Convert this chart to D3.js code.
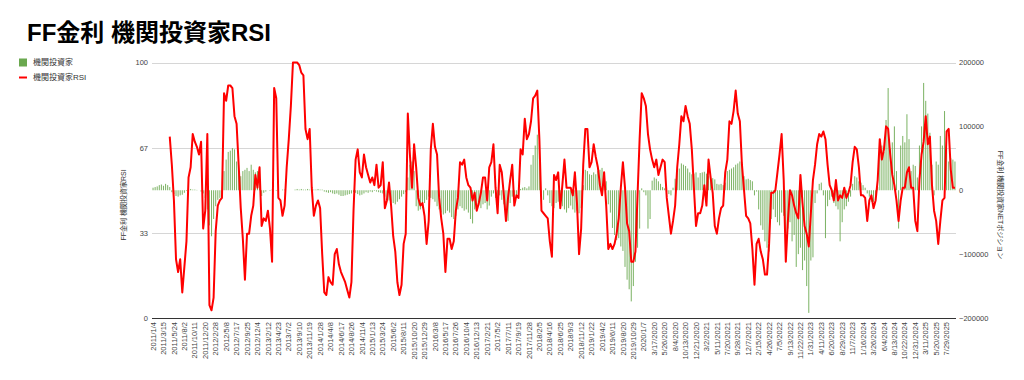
<!DOCTYPE html>
<html lang="ja">
<head>
  <meta charset="utf-8" />
  <title>FF金利 機関投資家RSI</title>
  <script src="https://d3js.org/d3.v7.min.js"></script>
  <style>
    html, body {
      margin: 0;
      padding: 0;
      background: #ffffff;
    }
    svg {
      display: block;
      font-family: "Liberation Sans", Arial, "Noto Sans CJK JP", sans-serif;
    }
    .title {
      font-size: 24px;
      font-weight: bold;
      fill: #000;
    }
    .legend text {
      font-size: 8px;
      fill: #333;
    }
    .axis text {
      font-size: 7.5px;
      fill: #444;
    }
    .axis-title {
      font-size: 7px;
      fill: #333;
    }
    .grid line {
      stroke: #d6d6d6;
      stroke-width: 1px;
    }
  </style>
</head>
<body>
  <svg id="chart" width="1024" height="380"></svg>

  <script>
    // x-axis tick labels, one every 5 slots (each slot = 2 weeks)
    const tickLabels = [
      "2011/1/4", "2011/3/15", "2011/5/24", "2011/8/2", "2011/10/11", "2011/12/20",
      "2012/2/28", "2012/5/8", "2012/7/17", "2012/9/25", "2012/12/4", "2013/2/12",
      "2013/4/23", "2013/7/2", "2013/9/10", "2013/11/19", "2014/1/28", "2014/4/8",
      "2014/6/17", "2014/8/26", "2014/11/4", "2015/1/13", "2015/3/24", "2015/6/2",
      "2015/8/11", "2015/10/20", "2015/12/29", "2016/3/8", "2016/5/17", "2016/7/26",
      "2016/10/4", "2016/12/13", "2017/2/21", "2017/5/2", "2017/7/11", "2017/9/19",
      "2017/11/28", "2018/2/5", "2018/4/16", "2018/6/25", "2018/9/3", "2018/11/12",
      "2019/1/22", "2019/4/2", "2019/6/11", "2019/8/20", "2019/10/29", "2020/1/7",
      "3/17/2020", "5/26/2020", "8/4/2020", "10/13/2020", "12/21/2020", "3/2/2021",
      "5/11/2021", "7/20/2021", "9/28/2021", "12/7/2021", "2/15/2022", "4/26/2022",
      "7/5/2022", "9/13/2022", "11/22/2022", "1/31/2023", "4/11/2023", "6/20/2023",
      "8/29/2023", "11/7/2023", "1/16/2024", "3/26/2024", "6/4/2024", "8/13/2024",
      "10/22/2024", "12/31/2024", "3/11/2025", "5/20/2025", "7/29/2025"
    ];
    const slotsPerTick = 5;

    // 機関投資家RSI (left axis, 0-100)
    const rsi = [
      null, null, null, null, null, null, null, null, 71, 60,
      46, 23, 18, 23, 10, 20, 30, 55, 59, 72,
      69, 67, 64, 69, 35, 42, 72, 5, 3, 8,
      34, 44, 46, 47, 88, 85, 91, 91, 90, 79,
      76, 60, 43, 31, 15, 33, 33, 40, 44, 56,
      51, 59, 36, 39, 38, 42, 35, 22, 90, 86,
      47, 46, 40, 44, 59, 70, 83, 100, 100, 100,
      99, 96, 95, 74, 70, 74, 51, 40, 44, 46,
      43, 25, 10, 9, 16, 14, 13, 25, 27, 21,
      18, 16, 14, 11, 8, 14, 42, 62, 66, 57,
      55, 64, 59, 56, 53, 55, 52, 60, 51, 52,
      61, 43, 46, 53, 44, 32, 26, 14, 9, 13,
      29, 33, 80, 64, 51, 68, 59, 47, 44, 45,
      40, 29, 38, 66, 76, 67, 64, 47, 39, 33,
      18, 31, 31, 27, 30, 42, 47, 61, 60, 62,
      55, 52, 51, 46, 49, 42, 45, 49, 55, 55,
      46, 59, 61, 68, 51, 41, 60, 57, 48, 38,
      47, 54, 60, 44, 48, 47, 66, 64, 78, 70,
      72, 77, 86, 87, 89, 70, 42, 41, 40, 39,
      30, 24, 56, 54, 57, 43, 52, 62, 51, 51,
      51, 48, 57, 45, 25, 35, 60, 74, 74, 59,
      61, 68, 63, 59, 52, 48, 57, 44, 27, 29,
      27, 29, 33, 39, 51, 61, 51, 37, 34, 22,
      22, 26, 48, 70, 88, 86, 83, 72, 66, 62,
      59, 62, 56, 59, 62, 61, 47, 40, 33, 38,
      44, 59, 68, 79, 77, 83, 79, 76, 66, 51,
      36, 41, 41, 44, 52, 44, 62, 55, 49, 36,
      33, 39, 43, 44, 57, 62, 77, 76, 81, 89,
      80, 77, 60, 50, 40, 39, 37, 27, 13, 29,
      31, 26, 23, 17, 17, 29, 49, 49, 50, 57,
      64, 72, 54, 22, 38, 50, 48, 44, 41, 39,
      56, 45, 36, 33, 28, 41, 54, 60, 68, 72,
      71, 73, 70, 60, 52, 50, 46, 54, 46, 48,
      47, 51, 47, 49, 52, 61, 67, 66, 59, 48,
      48, 47, 38, 46, 48, 43, 46, 54, 70, 62,
      66, 75, 74, 64, 56, 52, 46, 38, 46, 51,
      51, 57, 59, 51, 51, 38, 34, 54, 64, 69,
      79, 68, 71, 52, 42, 38, 29, 38, 46, 47,
      73, 74, 58, 51, 51
    ];

    // 機関投資家 NET position (right axis)
    const net = [
      4000, 5000, 6000, 8000, 9000, 7000, 10000, 8000, 5000,
      -3000, -6000, -9000, -10000, -8000, -7000, -4000,
      -1000, 1000, 2000, 1000, 1000, 500, 0, -2000, -5000,
      -12000, -30000, -55000, -72000, -45000, -25000, -15000, -12000, -8000,
      30000, 48000, 60000, 62000, 66000, 64000, 45000, 30000,
      22000, 30000, 32000, 35000, 30000, 40000, 32000, 28000, 30000, 36000,
      -9000, -4000, -2000, 0, -1000, 1000, 0, -1000, 1000, 0, 1000,
      1000, 0, 0, 0, 0, 1000, 2000, 1000, 2000, 1000, 1000, 2000, 1000, 2000, 1000, 1000, 2000, 1000, 1000,
      -2000, -3000, -4000, -3000, -5000, -6000, -5000, -7000, -9000, -9000, -8000, -7000, -6000, -5000, -3000,
      -4000, -6000, -8000, -7000, -5000, -3000, -4000, -2000, -3000, -1000, -2000, -3000, -4000, -5000,
      -10000, -14000, -16000, -18000, -20000, -22000, -18000, -14000, -10000, -6000, -3000,
      20000, 40000, 45000, 30000,
      -25000, -32000, -30000, -28000, -20000, -15000,
      -10000, -12000, -14000, -18000, -25000,
      -30000, -35000, -38000, -36000, -32000,
      -35000, -42000, -45000, -40000, -30000,
      -25000, -28000, -32000, -30000, -35000, -45000, -52000, -30000,
      -26000, -24000, -28000, -22000, -20000, -30000, -24000, -10000,
      -5000, -12000, -18000, -8000, -15000, -22000, -30000, -48000, -20000, -10000, -14000, -8000, -5000,
      2000, 4000, 5000, 3000, 6000, 40000, 55000, 70000, 87000, 75000,
      -5000, -15000, 3000, -8000, -20000, -25000, -28000, -20000, -18000, -22000,
      -25000, -30000, -35000, -28000, -24000, -30000, -35000, -32000, -36000, -28000,
      8000, 32000, 30000, 25000, 24000, 28000, 25000, 30000, 32000, 35000, 28000, 14000,
      -22000, -35000, -59000, -70000, -78000, -75000, -88000, -95000,
      -120000, -140000, -155000, -174000, -150000, -112000, -90000, -60000,
      3000, -3000, -8000, -60000, -45000, 15000,
      20000, 18000, 14000, 10000, 5000, 3000, -2000, -6000, -8000, 4000,
      18000, 28000, 34000, 42000, 40000, 38000, 34000,
      28000, 25000, 26000, 28000, 20000, 27000, 28000, 29000, 26000,
      22000, 18000, 19000, 17000, 10000, 9000, 10000, 8000, 12000,
      30000, 32000, 34000, 36000, 40000, 42000, 45000, 44000, 22000, 17000, 18000, 16000, 14000,
      -8000, -2000, -30000, -55000, -62000, -80000, -90000, -96000, -45000,
      -30000, -42000, -50000, -55000, -35000, -40000, -112000, -60000, -50000,
      -80000, -70000, -120000, -100000, -90000, -125000, -110000, -150000, -192000, -110000, -105000, -20000,
      -5000, 10000, 12000, -8000, -75000, -25000, -15000, -10000,
      -20000, -25000, -30000, -80000, -50000, -30000, -25000, -18000,
      -10000, 10000, 22000, 20000, 14000, 12000, 8000, 4000, -5000, -10000, -18000, -18000, -16000, 5000,
      80000, 70000, 60000, 110000, 160000, 65000, 75000, 100000, 30000, -60000,
      70000, 85000, 75000, 119000, 80000, 30000, 40000, 38000, 20000,
      70000, 100000, 168000, 140000, 120000, 90000, 40000, -8000, 45000,
      40000, 85000, 70000, 124000, 66000, 45000, 50000, 48000, 45000
    ];

    const leftTicks = [0, 100 / 3, 200 / 3, 100];
    const rightTicks = [-200000, -100000, 0, 100000, 200000];

    const plot = { left: 152, right: 956, top: 62.5, bottom: 318 };

    const svg = d3.select("#chart");

    const slots = d3.range(net.length);

    const x = d3.scaleBand()
      .domain(slots)
      .range([plot.left, plot.right])
      .paddingInner(0.5)
      .paddingOuter(0.25);

    const yL = d3.scaleLinear().domain([0, 100]).range([plot.bottom, plot.top]);
    const yR = d3.scaleLinear().domain([-200000, 200000]).range([plot.bottom, plot.top]);

    // title
    svg.append("text")
      .attr("class", "title")
      .attr("x", 27)
      .attr("y", 41)
      .text("FF金利 機関投資家RSI");

    // legend
    const legend = svg.append("g").attr("class", "legend");
    legend.append("rect")
      .attr("x", 19).attr("y", 58.5).attr("width", 8).attr("height", 8)
      .attr("fill", "#6aa84f");
    legend.append("text")
      .attr("x", 33).attr("y", 62.5).attr("dy", "0.35em")
      .text("機関投資家");
    legend.append("line")
      .attr("x1", 19).attr("x2", 27).attr("y1", 77.5).attr("y2", 77.5)
      .attr("stroke", "#ff0000").attr("stroke-width", 2);
    legend.append("text")
      .attr("x", 33).attr("y", 77.5).attr("dy", "0.35em")
      .text("機関投資家RSI");

    // horizontal gridlines from the left axis
    svg.append("g")
      .attr("class", "grid")
      .selectAll("line")
      .data(leftTicks.filter(d => d > 0))
      .join("line")
      .attr("x1", plot.left).attr("x2", plot.right)
      .attr("y1", d => Math.round(yL(d)) + 0.5)
      .attr("y2", d => Math.round(yL(d)) + 0.5);

    // NET bars
    svg.append("g")
      .attr("fill", "#6aa84f")
      .attr("fill-opacity", 0.85)
      .selectAll("rect")
      .data(slots)
      .join("rect")
      .attr("x", i => x(i))
      .attr("width", x.bandwidth())
      .attr("y", i => Math.min(yR(net[i]), yR(0)))
      .attr("height", i => Math.abs(yR(net[i]) - yR(0)));

    // RSI line
    const line = d3.line()
      .defined(i => rsi[i] != null)
      .x(i => x(i) + x.bandwidth() / 2)
      .y(i => yL(rsi[i]));

    svg.append("path")
      .datum(slots)
      .attr("fill", "none")
      .attr("stroke", "#ff0000")
      .attr("stroke-width", 2)
      .attr("stroke-linejoin", "round")
      .attr("d", line);

    // left axis
    const axL = svg.append("g")
      .attr("class", "axis")
      .attr("transform", `translate(${plot.left},0)`)
      .call(d3.axisLeft(yL).tickValues(leftTicks).tickFormat(d3.format(".0f")).tickSize(0).tickPadding(4));
    axL.select(".domain").remove();

    // right axis
    const axR = svg.append("g")
      .attr("class", "axis")
      .attr("transform", `translate(${plot.right},0)`)
      .call(d3.axisRight(yR).tickValues(rightTicks).tickFormat(d3.format("d")).tickSize(0).tickPadding(3));
    axR.select(".domain").remove();

    // bottom axis
    const tickSlots = tickLabels.map((_, i) => i * slotsPerTick);
    const axB = svg.append("g")
      .attr("class", "axis")
      .attr("transform", `translate(0,${plot.bottom})`)
      .call(d3.axisBottom(x).tickValues(tickSlots).tickFormat(s => tickLabels[s / slotsPerTick]).tickSize(0));
    axB.select(".domain")
      .attr("d", `M${plot.left},0.5H${plot.right}`)
      .attr("stroke", "#333");
    axB.selectAll(".tick text")
      .attr("transform", "rotate(-90)")
      .attr("text-anchor", "end")
      .attr("x", -4)
      .attr("y", 0)
      .attr("dy", "0.35em");

    // axis titles
    svg.append("text")
      .attr("class", "axis-title")
      .attr("transform", "translate(124,205) rotate(-90)")
      .attr("text-anchor", "middle")
      .attr("dy", "0.35em")
      .text("FF金利 機関投資家RSI");

    svg.append("text")
      .attr("class", "axis-title")
      .attr("transform", "translate(1000,205) rotate(90)")
      .attr("text-anchor", "middle")
      .attr("dy", "0.35em")
      .text("FF金利 機関投資家NETポジション");
  </script>
</body>
</html>
